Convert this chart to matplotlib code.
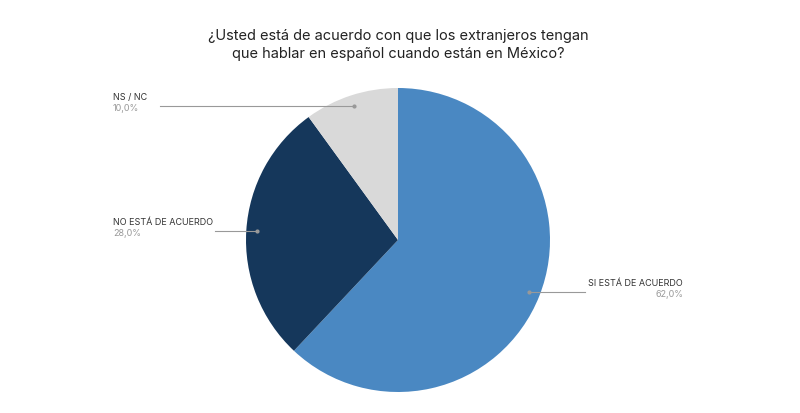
import matplotlib
matplotlib.use("Agg")
import matplotlib.pyplot as plt
import numpy as np

categories = ["SI ESTÁ DE ACUERDO", "NO ESTÁ DE ACUERDO", "NS / NC"]
values = [62.0, 28.0, 10.0]
pct_labels = ["62,0%", "28,0%", "10,0%"]
colors = ["#4a88c2", "#15375b", "#d9d9d9"]

plt.rcParams["font.family"] = "Inter"
fig = plt.figure(figsize=(8, 4.13), dpi=100)
ax = fig.add_axes([0, 0, 1, 1])
ax.set_xlim(0, 800); ax.set_ylim(0, 413); ax.set_aspect("equal"); ax.axis("off")

cx, cy, R = 398, 413 - 240, 152
wedges, _ = ax.pie(values, colors=colors, startangle=90, counterclock=False,
                   center=(cx, cy), radius=R, frame=True)
ax.set_xlim(0, 800); ax.set_ylim(0, 413); ax.axis("off")

# label anchor positions (pixel coords)
label_pos = [(585, 293, "left", 683), (215, 228, "right", 113), (160, 99, "right", 113)]
for w, cat, pct, (lx, ly, side, tx) in zip(wedges, categories, pct_labels, label_pos):
    ang = np.deg2rad((w.theta1 + w.theta2) / 2)
    px, py = cx + 0.93 * R * np.cos(ang), cy + 0.93 * R * np.sin(ang)
    ax.plot([px, lx], [py, py], color="#999999", lw=0.8)
    ax.plot([px], [py], "o", color="#999999", ms=2)
    ty = py + 4
    if side == "left":
        ax.text(lx + 3, ty, cat, fontsize=6.5, color="#333333", ha="left", va="bottom")
        ax.text(tx, ty - 2, pct, fontsize=6.5, color="#999999", ha="right", va="top")
    else:
        ax.text(tx, ty, cat, fontsize=6.5, color="#333333", ha="left", va="bottom")
        ax.text(tx, ty - 2, pct, fontsize=6.5, color="#999999", ha="left", va="top")

fig.text(398/800, 1 - 45/413,
         "¿Usted está de acuerdo con que los extranjeros tengan\nque hablar en español cuando están en México?",
         ha="center", va="center", fontsize=10.5, color="#222222", linespacing=1.3)
fig.savefig("out.png", dpi=100, facecolor="white")
